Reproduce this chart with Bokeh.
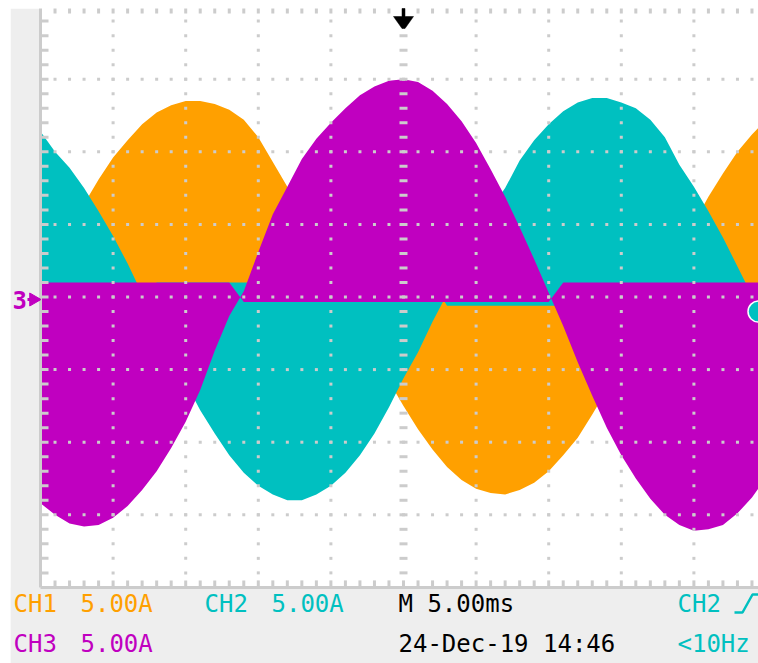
import numpy as np
from bokeh.plotting import figure
from bokeh.models import Range1d
from bokeh.core.properties import value
from bokeh.embed import file_html
from bokeh.resources import INLINE

# ---- acquisition: 5 ms/div horizontally, 5 A/div on every channel ----
time_ms = list(range(-25, 26))  # one sample per millisecond

# envelope of each chopped phase current (A)
ch1_amps = [0.7, 2.6, 4.6, 6.4, 8.1, 9.6, 10.8, 11.9, 12.7, 13.2,
            13.5, 13.5, 13.3, 12.9, 12.2, 11.0, 9.3, 7.6, 5.8, 3.9,
            2.0, 0.1, -2.0, -3.9, -5.8, -7.5, -9.1, -10.5, -11.7, -12.6,
            -13.2, -13.5, -13.6, -13.3, -12.8, -12.0, -10.9, -9.7, -8.1, -6.4,
            -4.6, -2.7, -0.7, 1.3, 3.2, 5.1, 6.9, 8.5, 10.0, 11.2, 12.2]
ch2_amps = [11.4, 10.0, 8.9, 7.5, 5.9, 4.2, 2.3, 0.2, -1.9, -4.0,
            -5.9, -7.8, -9.4, -10.9, -12.1, -13.0, -13.6, -14.0, -14.0, -13.6,
            -13.0, -12.1, -10.9, -9.4, -7.6, -5.6, -3.8, -1.7, 0.2, 2.2,
            4.2, 6.1, 7.5, 9.4, 10.8, 11.9, 12.8, 13.4, 13.7, 13.7,
            13.4, 13.0, 12.2, 11.0, 9.1, 7.6, 5.9, 4.1, 2.1, 0.1, -2.0]
ch3_amps = [-14.2, -15.0, -15.6, -15.8, -15.7, -15.2, -14.4, -13.3, -12.0, -10.4,
            -8.6, -6.4, -3.7, -1.3, 0.4, 3.1, 5.7, 7.6, 9.5, 10.9,
            12.0, 13.0, 13.9, 14.5, 14.9, 15.0, 14.8, 14.2, 13.3, 12.1,
            10.6, 8.8, 6.9, 4.8, 2.6, 0.3, -2.0, -4.5, -6.8, -9.0,
            -10.9, -12.5, -13.9, -15.0, -15.7, -16.1, -16.0, -15.7, -14.9, -13.8, -12.4]

# switching ripple around zero: (below zero while positive, above zero while negative)
ch1_band = (0.6, 1.0)
ch2_band = (0.6, 1.0)
ch3_band = (0.35, 1.0)

ch_labels = ["CH1", "CH2", "CH3"]
ch_scales = ["5.00A", "5.00A", "5.00A"]
timebase = "M 5.00ms"
timestamp = "24-Dec-19 14:46"
trig_source = "CH2"
trig_freq = "<10Hz"
trig_time = 0.0      # ms
trig_level = -1.0    # A

ORANGE = "#ffa000"
CYAN = "#00c0c0"
MAGENTA = "#c000c0"
GRID = "#cccccc"
PANEL = "#eeeeee"
FONT = value("DejaVu Sans Mono")
TEXT_SIZE = "24px"

# screen geometry: equal pixel scale on both axes
PX = 14.52
W, H = 758, 663
CX, CY = 403.0, 296.5   # where t = 0 ms and I = 0 A land


def sx(px):
    return (px - CX) / PX


def sy(py):
    return (CY - py) / PX


p = figure(width=W, height=H, output_backend="svg", toolbar_location=None,
           x_range=Range1d(sx(0), sx(W)), y_range=Range1d(sy(H), sy(0)),
           x_axis_type=None, y_axis_type=None, min_border=0)
p.outline_line_color = None
p.background_fill_color = "white"
p.border_fill_color = "white"
p.xgrid.visible = False
p.ygrid.visible = False

# instrument panel around the graticule
p.quad(left=[sx(10), sx(10)], right=[sx(39), sx(W)],
       bottom=[sy(H), sy(H)], top=[sy(8), sy(587)],
       fill_color=PANEL, line_color=None)

# traces: each fills the band between the zero ripple and its envelope
t = np.array(time_ms, dtype=float)
for amps, band, col in [(ch1_amps, ch1_band, ORANGE),
                        (ch2_amps, ch2_band, CYAN),
                        (ch3_amps, ch3_band, MAGENTA)]:
    a = np.array(amps)
    base = np.where(a > 0, -band[0], band[1])
    p.varea(x=t, y1=base, y2=a, fill_color=col)

# graticule: 10 x 8 divisions, dotted at every minor step
gx, gy = [], []
for xv in [-20, -15, -10, -5, 5, 10, 15, 20]:
    for yv in range(-19, 20):
        gx.append(xv)
        gy.append(yv)
for yv in [-15, -10, -5, 0, 5, 10, 15]:
    for xv in range(-24, 25):
        gx.append(xv)
        gy.append(yv)
p.rect(x=gx, y=gy, width=3, height=3, width_units="screen", height_units="screen",
       fill_color=GRID, line_color=None)
# centre vertical axis carries wider ticks
cy_ticks = list(range(-19, 20))
p.rect(x=[0] * len(cy_ticks), y=cy_ticks, width=8, height=3,
       width_units="screen", height_units="screen", fill_color=GRID, line_color=None)

# frame: left and bottom edges with minor ticks, ticks along the top
p.segment(x0=[-25, -25], y0=[-20, -20], x1=[-25, 25], y1=[20, -20],
          line_color=GRID, line_width=3)
ly = list(range(-19, 20))
p.segment(x0=[-25] * len(ly), y0=ly, x1=[-25 + 8 / PX] * len(ly), y1=ly,
          line_color=GRID, line_width=3)
tx = list(range(-24, 25))
p.segment(x0=tx, y0=[20] * len(tx), x1=tx, y1=[20 - 7 / PX] * len(tx),
          line_color=GRID, line_width=3)
p.segment(x0=tx, y0=[-20] * len(tx), x1=tx, y1=[-20 + 7 / PX] * len(tx),
          line_color=GRID, line_width=3)

# white margin of the capture
p.quad(left=[sx(0), sx(0)], right=[sx(W), sx(10)], bottom=[sy(8), sy(H)], top=[sy(0), sy(0)],
       fill_color="white", line_color=None)

# trigger position arrow
d = 1 / PX
arrow_x = [trig_time - 1.5 * d, trig_time + 1.5 * d, trig_time + 1.5 * d, trig_time + 10 * d,
           trig_time + 1.5 * d, trig_time - 1.5 * d, trig_time - 10 * d, trig_time - 1.5 * d]
arrow_y = [sy(8), sy(8), sy(16), sy(16), sy(28), sy(28), sy(16), sy(16)]
p.patch(x=arrow_x, y=arrow_y, fill_color="black", line_color="black", line_width=0.5)

# trigger level marker on the right edge
p.scatter(x=[sx(W)], y=[trig_level], marker="circle", size=21,
          fill_color=CYAN, line_color="white", line_width=1.5)

# CH3 ground reference marker
p.text(x=[sx(12)], y=[sy(299)], text=["3"], text_color=MAGENTA, text_font=FONT,
       text_font_size="24px", text_font_style="bold", text_baseline="middle")
p.segment(x0=[sx(27)], y0=[sy(299)], x1=[sx(39)], y1=[sy(299)], line_color=MAGENTA, line_width=3)
p.scatter(x=[sx(33)], y=[sy(299)], marker="triangle", angle=-np.pi / 2, size=13,
          fill_color=MAGENTA, line_color=MAGENTA)

# readout
row1, row2 = sy(603), sy(643)
p.text(x=[sx(13), sx(80)], y=[row1, row1], text=[ch_labels[0], ch_scales[0]],
       text_color=ORANGE, text_font=FONT, text_font_size=TEXT_SIZE, text_baseline="middle")
p.text(x=[sx(204), sx(271)], y=[row1, row1], text=[ch_labels[1], ch_scales[1]],
       text_color=CYAN, text_font=FONT, text_font_size=TEXT_SIZE, text_baseline="middle")
p.text(x=[sx(13), sx(80)], y=[row2, row2], text=[ch_labels[2], ch_scales[2]],
       text_color=MAGENTA, text_font=FONT, text_font_size=TEXT_SIZE, text_baseline="middle")
p.text(x=[sx(398), sx(398)], y=[row1, row2], text=[timebase, timestamp],
       text_color="black", text_font=FONT, text_font_size=TEXT_SIZE, text_baseline="middle")
p.text(x=[sx(677), sx(677)], y=[row1, row2], text=[trig_source, trig_freq],
       text_color=CYAN, text_font=FONT, text_font_size=TEXT_SIZE, text_baseline="middle")
# rising-edge trigger slope symbol
p.line(x=[sx(734), sx(742), sx(752), sx(760)], y=[sy(612), sy(612), sy(594), sy(594)],
       line_color=CYAN, line_width=2.5)

open("out.html", "w").write(file_html(p, INLINE))
